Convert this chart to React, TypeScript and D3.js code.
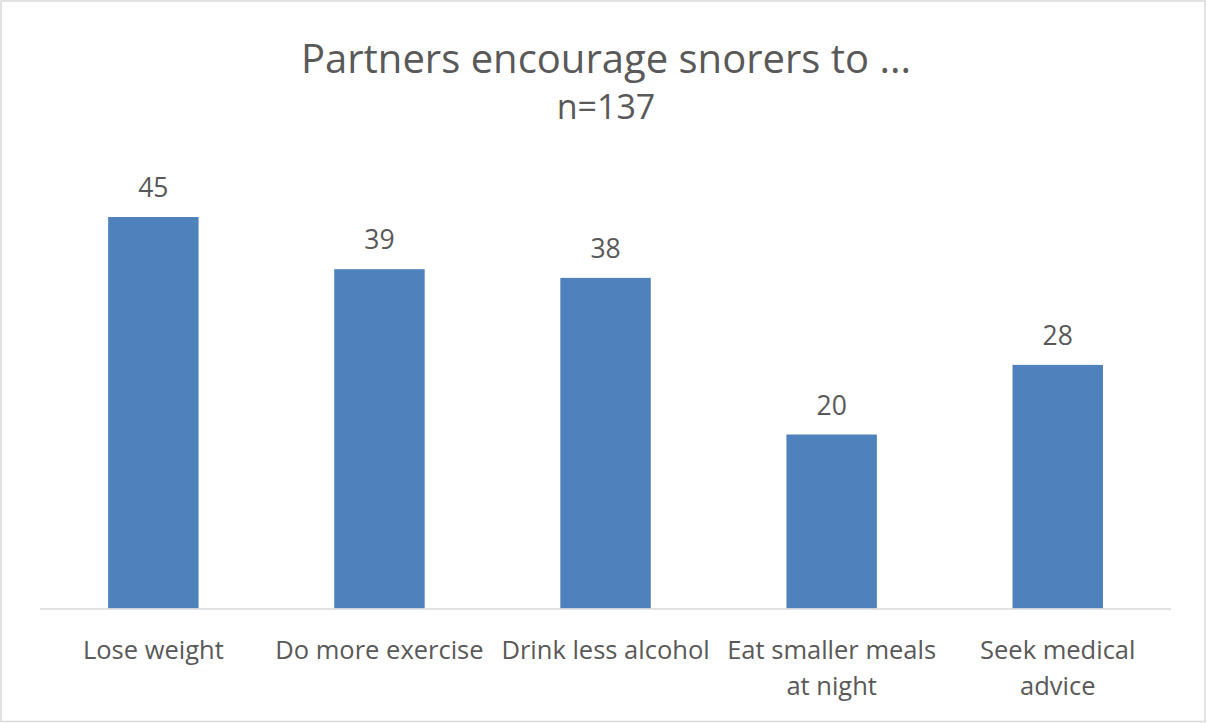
import React from "react";
import * as d3 from "d3";

const categories: string[][] = [
  ["Lose weight"],
  ["Do more exercise"],
  ["Drink less alcohol"],
  ["Eat smaller meals", "at night"],
  ["Seek medical", "advice"],
];
const values: number[] = [45, 39, 38, 20, 28];
const title = "Partners encourage snorers to ...";
const subtitle = "n=137";

const W = 1207;
const H = 723;
const FONT = "'Open Sans', 'DejaVu Sans', sans-serif";
const TEXT = "#595959";
const BAR = "#4F81BD";

export default function App() {
  const keys = categories.map((c) => c.join(" "));
  const x = d3
    .scaleBand<string>()
    .domain(keys)
    .range([40.3, 1170.8])
    .paddingInner(0.6)
    .paddingOuter(0.3);
  const y = d3.scaleLinear().domain([0, 50]).range([608.5, 173.5]);

  return (
    <svg
      width={W}
      height={H}
      style={{ position: "absolute", left: 0, top: 0, background: "#fff" }}
      fontFamily={FONT}
    >
      <rect x={1} y={1} width={W - 3} height={H - 2.5} fill="#fff" stroke="#d9d9d9" strokeWidth={1.5} />
      <text x={606} y={57} textAnchor="middle" dominantBaseline="central" fontSize={40} fill={TEXT}>
        {title}
      </text>
      <text x={606} y={106} textAnchor="middle" dominantBaseline="central" fontSize={34} fill={TEXT}>
        {subtitle}
      </text>
      {values.map((v, i) => (
        <g key={keys[i]}>
          <rect
            x={x(keys[i])!}
            y={y(v)}
            width={x.bandwidth()}
            height={y(0) - y(v)}
            fill={BAR}
          />
          <text
            x={x(keys[i])! + x.bandwidth() / 2}
            y={y(v) - 30}
            textAnchor="middle"
            dominantBaseline="central"
            fontSize={26.5}
            fill={TEXT}
          >
            {v}
          </text>
        </g>
      ))}
      <line x1={40} x2={1171} y1={y(0) + 0.5} y2={y(0) + 0.5} stroke="#d9d9d9" strokeWidth={1.5} />
      {categories.map((lines, i) => (
        <text
          key={keys[i]}
          x={x(keys[i])! + x.bandwidth() / 2}
          textAnchor="middle"
          fontSize={25.5}
          fill={TEXT}
        >
          {lines.map((l, j) => (
            <tspan key={j} x={x(keys[i])! + x.bandwidth() / 2} y={649 + j * 36} dominantBaseline="central">
              {l}
            </tspan>
          ))}
        </text>
      ))}
    </svg>
  );
}
